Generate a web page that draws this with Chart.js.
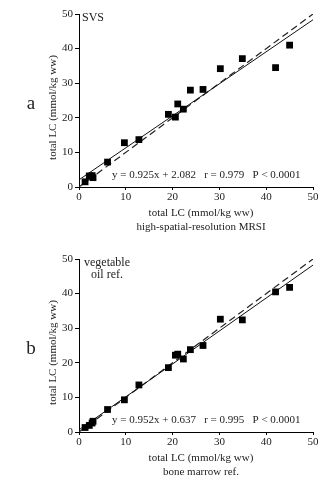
<!DOCTYPE html>
<html>
<head>
<meta charset="utf-8">
<script src="https://cdn.jsdelivr.net/npm/chart.js@4.4.1/dist/chart.umd.min.js"></script>
<style>
  body { margin: 0; background: #fff; }
  .panel { position: absolute; left: 0; width: 320px; }
  #wrapA { top: 0; height: 240px; }
  #wrapB { top: 239px; height: 239px; }
</style>
</head>
<body>
<div class="panel" id="wrapA"><canvas id="chart_a"></canvas></div>
<div class="panel" id="wrapB"><canvas id="chart_b"></canvas></div>
<script>
// reference values (x) shared by both panels
const refX = [1.3, 2.2, 2.8, 3.0, 6.1, 9.7, 12.8, 19.1, 20.6, 21.1, 22.3, 23.8, 26.5, 30.2, 34.9, 42.0, 45.0]
// panel a: SVS
const svsY = [1.5, 3.2, 3.3, 2.7, 7.2, 12.8, 13.7, 21.0, 20.2, 24.0, 22.5, 28.0, 28.2, 34.2, 37.1, 34.5, 41.0]
// panel b: vegetable oil ref.
const oilY = [1.3, 1.9, 2.6, 3.1, 6.5, 9.3, 13.6, 18.6, 22.2, 22.5, 21.1, 23.8, 25.0, 32.6, 32.4, 40.5, 41.8]

const lineX = [0, 50]
const fitA = [2.08, 48.33]   // y = 0.925x + 2.082
const fitB = [0.64, 48.24]   // y = 0.952x + 0.637
const identity = [0, 50]
const tickVals = [0, 10, 20, 30, 40, 50]

const SERIF = "'Liberation Serif', 'Times New Roman', serif"

function pts(xs, ys) {
    return xs.map((x, i) => ({ x: x, y: ys[i] }))
}

// draws the text labels around the plot
function labelsPlugin(opts) {
    return {
        id: 'labels',
        afterDraw(chart) {
            const c = chart.ctx
            const a = chart.chartArea
            const cx = (a.left + a.right) / 2 + 5
            c.save()
            c.fillStyle = '#222'
            c.textBaseline = 'middle'
            // equation
            c.font = '11px ' + SERIF
            c.textAlign = 'left'
            c.fillText(opts.eq, a.left + 33, a.bottom - 12)
            // inside corner label
            c.font = '12px ' + SERIF
            opts.corner.forEach((t, i) => {
                c.textAlign = 'center'
                c.fillText(t, a.left + opts.cornerX, a.top + 4 + i * 12)
            })
            // x title lines
            c.textAlign = 'center'
            c.font = '11px ' + SERIF
            c.fillText('total LC (mmol/kg ww)', cx, a.bottom + opts.titleY)
            c.fillText(opts.xSub, cx, a.bottom + opts.titleY + 14)
            // y title
            c.save()
            c.translate(53, (a.top + a.bottom) / 2 + 7)
            c.rotate(-Math.PI / 2)
            c.fillText('total LC (mmol/kg ww)', 0, 0)
            c.restore()
            // panel letter
            c.font = '19px ' + SERIF
            c.fillText(opts.letter, 31, (a.top + a.bottom) / 2 + 4)
            c.restore()
        }
    }
}

function makeChart(id, yVals, fit, padTop, xHeight, opts) {
    const ctx = document.getElementById(id).getContext('2d')
    return new Chart(ctx, {
        type: 'scatter',
        data: {
            datasets: [
                {
                    label: 'data',
                    data: pts(refX, yVals),
                    pointStyle: 'rect',
                    pointRadius: 4.8,
                    backgroundColor: '#000',
                    borderColor: '#000',
                    borderWidth: 0
                },
                {
                    label: 'fit',
                    type: 'line',
                    data: pts(lineX, fit),
                    borderColor: '#111',
                    borderWidth: 1,
                    pointRadius: 0
                },
                {
                    label: 'identity',
                    type: 'line',
                    data: pts(lineX, identity),
                    borderColor: '#222',
                    borderWidth: 1.2,
                    borderDash: [7, 4],
                    pointRadius: 0
                }
            ]
        },
        options: {
            responsive: true,
            maintainAspectRatio: false,
            animation: false,
            layout: { padding: { top: padTop, right: 7, left: 0, bottom: 0 } },
            plugins: {
                legend: { display: false },
                tooltip: { enabled: false }
            },
            scales: {
                x: {
                    type: 'linear',
                    min: 0,
                    max: 50,
                    afterBuildTicks: s => { s.ticks = tickVals.map(v => ({ value: v })) },
                    afterFit: s => { s.height = xHeight },
                    border: { color: '#000', width: 1 },
                    grid: { drawOnChartArea: false, tickLength: 3, color: '#000' },
                    ticks: { color: '#222', padding: 1, maxRotation: 0, font: { family: SERIF, size: 11 } }
                },
                y: {
                    type: 'linear',
                    min: 0,
                    max: 50,
                    afterBuildTicks: s => { s.ticks = tickVals.map(v => ({ value: v })) },
                    afterFit: s => { s.width = 79 },
                    border: { color: '#000', width: 1 },
                    grid: { drawOnChartArea: false, tickLength: 4, color: '#000' },
                    ticks: { color: '#222', padding: 2, font: { family: SERIF, size: 11 } }
                }
            }
        },
        plugins: [labelsPlugin(opts)]
    })
}

makeChart('chart_a', svsY, fitA, 14, 53, {
    eq: 'y = 0.925x + 2.082   r = 0.979   P < 0.0001',
    corner: ['SVS'],
    cornerX: 14,
    xSub: 'high-spatial-resolution MRSI',
    titleY: 26,
    letter: 'a'
})

makeChart('chart_b', oilY, fitB, 20, 46, {
    eq: 'y = 0.952x + 0.637   r = 0.995   P < 0.0001',
    corner: ['vegetable', 'oil ref.'],
    cornerX: 28,
    xSub: 'bone marrow ref.',
    titleY: 26,
    letter: 'b'
})
</script>
</body>
</html>
